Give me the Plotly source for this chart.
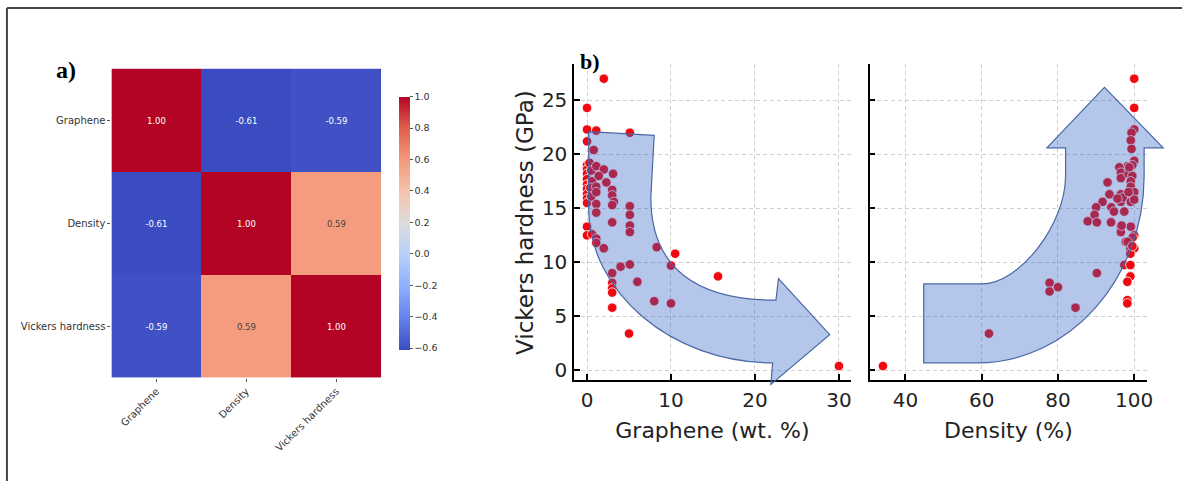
import plotly.graph_objects as go

# ---------------- data ----------------
labels = ["Graphene", "Density", "Vickers hardness"]
corr = [[1.00, -0.61, -0.59],
        [-0.61, 1.00, 0.59],
        [-0.59, 0.59, 1.00]]
cb_ticks = [-0.6, -0.4, -0.2, 0.0, 0.2, 0.4, 0.6, 0.8, 1.0]

graphene = [2.0, 0.0, 0.0, 1.1, 5.1, 0.0, 0.8,
            0.0, 0.0, 0.0, 0.0, 0.0, 0.0, 0.0, 0.0, 0.0,
            0.3, 0.5, 0.6, 0.4, 0.5,
            1.1, 2.0, 1.4, 3.1, 2.3, 1.1, 1.1, 1.1, 1.1,
            3.0, 3.0, 3.2, 3.0, 3.0,
            5.1, 5.1, 5.1, 5.1,
            0.0, 0.0, 0.6, 1.1, 1.1, 2.0,
            8.3, 10.5, 10.0, 4.0, 5.1, 3.0, 3.0, 3.0, 3.0,
            6.0, 15.6, 8.0, 10.0, 3.0, 5.0, 30.0]
hardness_g = [27.0, 24.3, 22.3, 22.2, 22.0, 21.2, 20.4,
              19.0, 18.6, 18.2, 17.7, 17.2, 16.8, 16.3, 15.9, 15.5,
              19.2, 18.5, 17.5, 16.9, 16.1,
              18.9, 18.6, 18.0, 18.2, 17.4, 17.0, 16.5, 15.4, 14.6,
              16.7, 16.2, 15.6, 15.3, 13.7,
              15.2, 14.4, 13.4, 12.8,
              13.3, 12.5, 12.6, 12.2, 11.8, 11.3,
              11.4, 10.8, 9.7, 9.6, 9.8, 9.0, 8.1, 7.6, 7.2,
              8.2, 8.7, 6.4, 6.2, 5.8, 3.4, 0.4]

density = [100.0, 100.0, 100.0, 99.3, 99.1, 99.3, 100.0, 99.5,
           98.3, 96.1, 96.5, 96.5, 98.5, 99.5, 99.1, 99.1, 100.0,
           93.0, 93.5, 91.7, 90.0, 89.6, 87.8, 90.2,
           94.0, 94.7, 94.0, 96.5, 96.5, 97.0, 97.4, 99.1, 100.0, 98.5,
           96.5, 96.5, 99.1, 100.0, 97.8, 99.0, 100.0, 99.0,
           97.4, 99.0, 99.0, 98.2, 98.2, 98.2,
           90.2, 77.8, 77.8, 80.0, 84.6, 61.9, 34.1,
           93.9, 99.6, 98.3, 99.5, 95.6, 98.7, 96.7]
hardness_d = [27.0, 24.3, 22.3, 22.0, 21.3, 20.5, 19.4, 19.0,
              18.9, 18.8, 18.3, 17.8, 18.2, 18.0, 17.5, 17.0, 16.5,
              17.4, 16.3, 15.6, 15.1, 14.4, 13.8, 13.7,
              15.1, 14.7, 13.7, 16.3, 15.6, 16.0, 14.7, 15.6, 15.8, 16.5,
              13.3, 12.8, 13.3, 12.5, 11.9, 11.3, 11.3, 10.8,
              9.75, 9.75, 8.7, 8.2, 6.5, 6.2,
              9.0, 8.1, 7.3, 7.7, 5.8, 3.4, 0.4,
              13.7, 12.3, 11.9, 11.5, 15.9, 18.8, 13.4]

G_RANGE = [-1.54, 31.4]
D_RANGE = [30.6, 103.4]
H_RANGE = [-0.86, 28.4]

coolwarm = [[0.0, "rgb(59,76,192)"], [0.125, "rgb(98,130,234)"],
            [0.25, "rgb(141,176,254)"], [0.375, "rgb(184,208,249)"],
            [0.5, "rgb(221,220,220)"], [0.625, "rgb(245,196,173)"],
            [0.75, "rgb(244,154,123)"], [0.875, "rgb(222,96,77)"],
            [1.0, "rgb(180,4,38)"]]

FONT = "DejaVu Sans"
W, H = 1188, 484

fig = go.Figure()

fig.add_trace(go.Heatmap(
    z=corr, x=labels, y=labels, colorscale=coolwarm, zmin=-0.61, zmax=1.0,
    text=[[f"{v:.2f}" for v in row] for row in corr], texttemplate="%{text}",
    textfont=dict(size=8.5, family=FONT), xaxis="x", yaxis="y",
    colorbar=dict(x=401 / W, xanchor="left", xref="paper", xpad=0, ypad=0,
                  y=1 - 224.5 / H, yanchor="middle", len=255 / H, lenmode="fraction",
                  thickness=11, outlinewidth=0, ticks="outside", ticklen=3,
                  tickcolor="#555", tickmode="array", tickvals=cb_ticks,
                  ticktext=[f"{v:.1f}".replace("-", "\u2212") for v in cb_ticks],
                  tickfont=dict(size=9.5, family=FONT, color="#333"))))

mk = dict(size=9.5, color="rgb(240,8,16)", line=dict(color="white", width=0.8))
fig.add_trace(go.Scatter(x=graphene, y=hardness_g, mode="markers", marker=mk,
                         xaxis="x2", yaxis="y2", showlegend=False))
fig.add_trace(go.Scatter(x=density, y=hardness_d, mode="markers", marker=mk,
                         xaxis="x3", yaxis="y3", showlegend=False))

sc_axis = dict(showline=True, linecolor="black", linewidth=1.5, ticks="inside",
               ticklen=6, tickwidth=1.5, tickcolor="black", showgrid=True,
               gridcolor="#cfcfcf", griddash="4px,3px", gridwidth=1, zeroline=False,
               tickfont=dict(size=20, family=FONT, color="#222"), mirror=False)

fig.update_layout(
    width=W, height=H, margin=dict(l=0, r=0, t=0, b=0),
    paper_bgcolor="white", plot_bgcolor="white", showlegend=False,
    font=dict(family=FONT, color="#222"),
    xaxis=dict(domain=[112 / W, 383 / W], anchor="y", tickangle=-45, ticks="outside",
               ticklen=3, tickcolor="#555", showgrid=False, showline=False, zeroline=False,
               tickfont=dict(size=10, family=FONT, color="#333")),
    yaxis=dict(domain=[1 - 380 / H, 1 - 69 / H], anchor="x", autorange="reversed",
               ticks="outside", ticklen=3, tickcolor="#555", showgrid=False,
               showline=False, zeroline=False,
               tickfont=dict(size=10, family=FONT, color="#333")),
    xaxis2=dict(domain=[577 / W, 855 / W], anchor="y2", range=G_RANGE,
                tickvals=[0, 10, 20, 30], ticklabelstandoff=2,
                title=dict(text="Graphene (wt. %)", font=dict(size=22, family=FONT, color="#222"),
                           standoff=11), **sc_axis),
    yaxis2=dict(domain=[1 - 382 / H, 1 - 64 / H], anchor="x2", range=H_RANGE,
                tickvals=[0, 5, 10, 15, 20, 25], ticklabelstandoff=1, **sc_axis),
    xaxis3=dict(domain=[874 / W, 1153 / W], anchor="y3", range=D_RANGE,
                tickvals=[40, 60, 80, 100], ticklabelstandoff=2,
                title=dict(text="Density (%)", font=dict(size=22, family=FONT, color="#222"),
                           standoff=11), **sc_axis),
    yaxis3=dict(domain=[1 - 382 / H, 1 - 64 / H], anchor="x3", range=H_RANGE,
                tickvals=[0, 5, 10, 15, 20, 25], showticklabels=False, **sc_axis),
)


def dom_path(cmds, xr, yr):
    """Convert a list of (cmd, [(x,y),...]) in data units to a domain-fraction path."""
    out = []
    for c, pts in cmds:
        s = c
        if pts:
            s += " ".join(f"{(x - xr[0]) / (xr[1] - xr[0]):.4f},{(y - yr[0]) / (yr[1] - yr[0]):.4f}"
                          for x, y in pts)
        out.append(s)
    return " ".join(out)


arrow_style = dict(type="path", layer="above", fillcolor="rgba(47,97,194,0.36)",
                   line=dict(color="rgb(72,104,165)", width=1.2))

left_arrow = [("M", [(0.2, 22.1)]), ("L", [(8.0, 21.75)]), ("L", [(7.6, 16.0)]),
              ("C", [(7.6, 9.5), (13.0, 6.5), (22.5, 6.5)]),
              ("L", [(22.8, 8.5)]), ("L", [(28.9, 3.3)]), ("L", [(21.9, -1.3)]),
              ("L", [(22.1, 0.7)]),
              ("C", [(10.0, 0.7), (0.2, 7.3), (0.2, 15.0)]), ("Z", [])]
right_arrow = [("M", [(44.8, 8.0)]), ("L", [(60.0, 8.0)]),
               ("C", [(69.9, 8.0), (82.0, 13.5), (82.0, 18.0)]),
               ("L", [(82.0, 20.6)]), ("L", [(77.1, 20.6)]), ("L", [(92.2, 26.2)]),
               ("L", [(107.6, 20.6)]), ("L", [(102.6, 20.6)]), ("L", [(102.6, 18.0)]),
               ("C", [(102.6, 8.5), (83.0, 0.7), (59.0, 0.7)]),
               ("L", [(44.8, 0.7)]), ("Z", [])]

fig.add_shape(path=dom_path(left_arrow, G_RANGE, H_RANGE), xref="x2 domain",
              yref="y2 domain", **arrow_style)
fig.add_shape(path=dom_path(right_arrow, D_RANGE, H_RANGE), xref="x3 domain",
              yref="y3 domain", **arrow_style)

# outer frame (top and left edges)
frame = dict(type="line", xref="paper", yref="paper", line=dict(color="#444", width=2))
fig.add_shape(x0=7 / W, x1=1, y0=1 - 8 / H, y1=1 - 8 / H, **frame)
fig.add_shape(x0=7 / W, x1=7 / W, y0=0, y1=1 - 8 / H, **frame)

# y-axis title of panel b
fig.add_annotation(text="Vickers hardness (GPa)", textangle=-90, x=527 / W, y=1 - 224 / H,
                   xref="paper", yref="paper", xanchor="center", yanchor="middle",
                   showarrow=False, font=dict(size=23, family=FONT, color="#222"))

fig.add_annotation(text="<b>a)</b>", x=54 / W, y=1 - 70 / H, xref="paper", yref="paper",
                   xanchor="left", yanchor="middle", showarrow=False,
                   font=dict(size=24, family="Liberation Serif", color="black"))
fig.add_annotation(text="<b>b)</b>", x=581 / W, y=1 - 62 / H, xref="paper", yref="paper",
                   xanchor="left", yanchor="middle", showarrow=False,
                   font=dict(size=22, family="Liberation Serif", color="black"))

fig.write_html("out.html")
